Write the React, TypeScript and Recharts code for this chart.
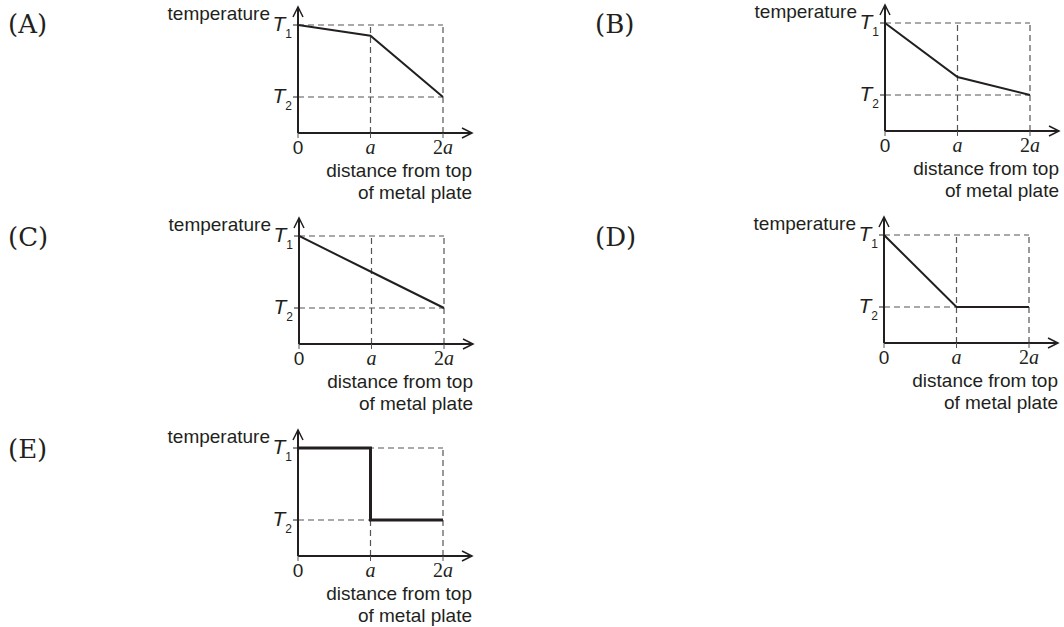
import { LineChart, Line, XAxis, YAxis, ReferenceLine, ReferenceDot } from "recharts";

// x positions: 0, a, 2a
const positions = [0, 1, 2];
const xTickLabels = ["0", "a", "2a"];

// temperature levels: T2 = 1, T1 = 3
const yTicks = [1, 3];
const yTickLabels: Record<number, string> = { 1: "2", 3: "1" };

const seriesA = [3, 2.7, 1];
const seriesB = [3, 1.5, 1];
const seriesC = [3, 2, 1];
const seriesD = [3, 1, 1];
const seriesE = [3, 1, 1];

const panelLetters = ["(A)", "(B)", "(C)", "(D)", "(E)"];

const INK = "#231f20";
const DASH = "#555555";
const SANS = "'Liberation Sans', Arial, sans-serif";
const SERIF = "'Liberation Serif', 'Times New Roman', serif";

const X_MAX = 2.4;
const Y_MAX = 3.5;
const PLOT_W = 174;
const PLOT_H = 126;
const M_TOP = 10;
const M_RIGHT = 12;
const Y_W = 40;
const X_H = 30;

const panels = [
  { letter: panelLetters[0], lx: 8, ly: 33, ox: 298, oy: 132.5, values: seriesA, step: false, width: 2 },
  { letter: panelLetters[1], lx: 595, ly: 33, ox: 885, oy: 131, values: seriesB, step: false, width: 2 },
  { letter: panelLetters[2], lx: 8, ly: 246, ox: 299, oy: 344, values: seriesC, step: false, width: 2 },
  { letter: panelLetters[3], lx: 595, ly: 246, ox: 884, oy: 343, values: seriesD, step: false, width: 2 },
  { letter: panelLetters[4], lx: 8, ly: 458, ox: 298, oy: 556, values: seriesE, step: true, width: 3 },
];

const XTick = (props: any) => {
  const { x, y, payload } = props;
  const label = xTickLabels[payload.value];
  return (
    <text x={x} y={y + 16} textAnchor="middle" fill={INK} fontSize={20}>
      {label === "0" && <tspan fontFamily={SANS} fontSize={19}>0</tspan>}
      {label === "a" && <tspan fontFamily={SERIF} fontStyle="italic">a</tspan>}
      {label === "2a" && (
        <>
          <tspan fontFamily={SERIF}>2</tspan>
          <tspan fontFamily={SERIF} fontStyle="italic">a</tspan>
        </>
      )}
    </text>
  );
};

const YTick = (props: any) => {
  const { x, y, payload } = props;
  return (
    <text x={x + 1} y={y + 6} textAnchor="end" fill={INK} fontFamily={SANS}>
      <tspan fontSize={21} fontStyle="italic">T</tspan>
      <tspan fontSize={12} dy={7}>{yTickLabels[payload.value]}</tspan>
    </text>
  );
};

const arrowRight = (p: any) => (
  <path d={`M${p.cx - 10},${p.cy - 5} L${p.cx},${p.cy} L${p.cx - 10},${p.cy + 5}`} fill="none" stroke={INK} strokeWidth={1.5} />
);
const arrowUp = (p: any) => (
  <path d={`M${p.cx - 5},${p.cy + 10} L${p.cx},${p.cy} L${p.cx + 5},${p.cy + 10}`} fill="none" stroke={INK} strokeWidth={1.5} />
);

function Panel({ ox, oy, values, step, width }: any) {
  const data = positions.map((x, i) => ({ x, t: values[i] }));
  return (
    <div style={{ position: "absolute", left: ox - Y_W, top: oy - PLOT_H - M_TOP }}>
      <LineChart
        width={Y_W + PLOT_W + M_RIGHT}
        height={M_TOP + PLOT_H + X_H}
        data={data}
        margin={{ top: M_TOP, right: M_RIGHT, bottom: 0, left: 0 }}
      >
        <XAxis
          type="number"
          dataKey="x"
          domain={[0, X_MAX]}
          ticks={positions}
          height={X_H}
          axisLine={{ stroke: INK, strokeWidth: 2 }}
          tickLine={{ stroke: DASH, strokeDasharray: "6 4" }}
          tickSize={5}
          tickMargin={0}
          tick={<XTick />}
          allowDataOverflow
        />
        <YAxis
          type="number"
          domain={[0, Y_MAX]}
          ticks={yTicks}
          width={Y_W}
          axisLine={{ stroke: INK, strokeWidth: 2 }}
          tickLine={{ stroke: INK }}
          tickSize={5}
          tickMargin={2}
          tick={<YTick />}
          allowDataOverflow
        />
        <ReferenceLine segment={[{ x: 0, y: 3 }, { x: 2, y: 3 }]} stroke={DASH} strokeWidth={1.2} strokeDasharray="6 4" />
        <ReferenceLine segment={[{ x: 0, y: 1 }, { x: 2, y: 1 }]} stroke={DASH} strokeWidth={1.2} strokeDasharray="6 4" />
        <ReferenceLine segment={[{ x: 1, y: 0 }, { x: 1, y: 3 }]} stroke={DASH} strokeWidth={1.2} strokeDasharray="6 4" />
        <ReferenceLine segment={[{ x: 2, y: 0 }, { x: 2, y: 3 }]} stroke={DASH} strokeWidth={1.2} strokeDasharray="6 4" />
        <Line
          type={step ? "stepAfter" : "linear"}
          dataKey="t"
          stroke={INK}
          strokeWidth={width}
          dot={false}
          isAnimationActive={false}
        />
        <ReferenceDot x={X_MAX} y={0} shape={arrowRight} />
        <ReferenceDot x={0} y={Y_MAX} shape={arrowUp} />
      </LineChart>
    </div>
  );
}

export default function App() {
  return (
    <div style={{ position: "absolute", left: 0, top: 0, width: 1064, height: 627, background: "#fff" }}>
      <svg width={1064} height={627} style={{ position: "absolute", left: 0, top: 0 }}>
        {panels.map((p, i) => (
          <g key={i} fill={INK}>
            <text x={p.lx} y={p.ly} fontFamily="'DejaVu Serif', serif" fontSize={26}>
              {p.letter}
            </text>
            <text x={p.ox - 28} y={p.oy - 113} textAnchor="end" fontFamily={SANS} fontSize={19}>
              temperature
            </text>
            <text x={p.ox + 174} y={p.oy + 44} textAnchor="end" fontFamily={SANS} fontSize={19}>
              distance from top
            </text>
            <text x={p.ox + 174} y={p.oy + 66} textAnchor="end" fontFamily={SANS} fontSize={19}>
              of metal plate
            </text>
          </g>
        ))}
      </svg>
      {panels.map((p, i) => (
        <Panel key={i} {...p} />
      ))}
    </div>
  );
}
